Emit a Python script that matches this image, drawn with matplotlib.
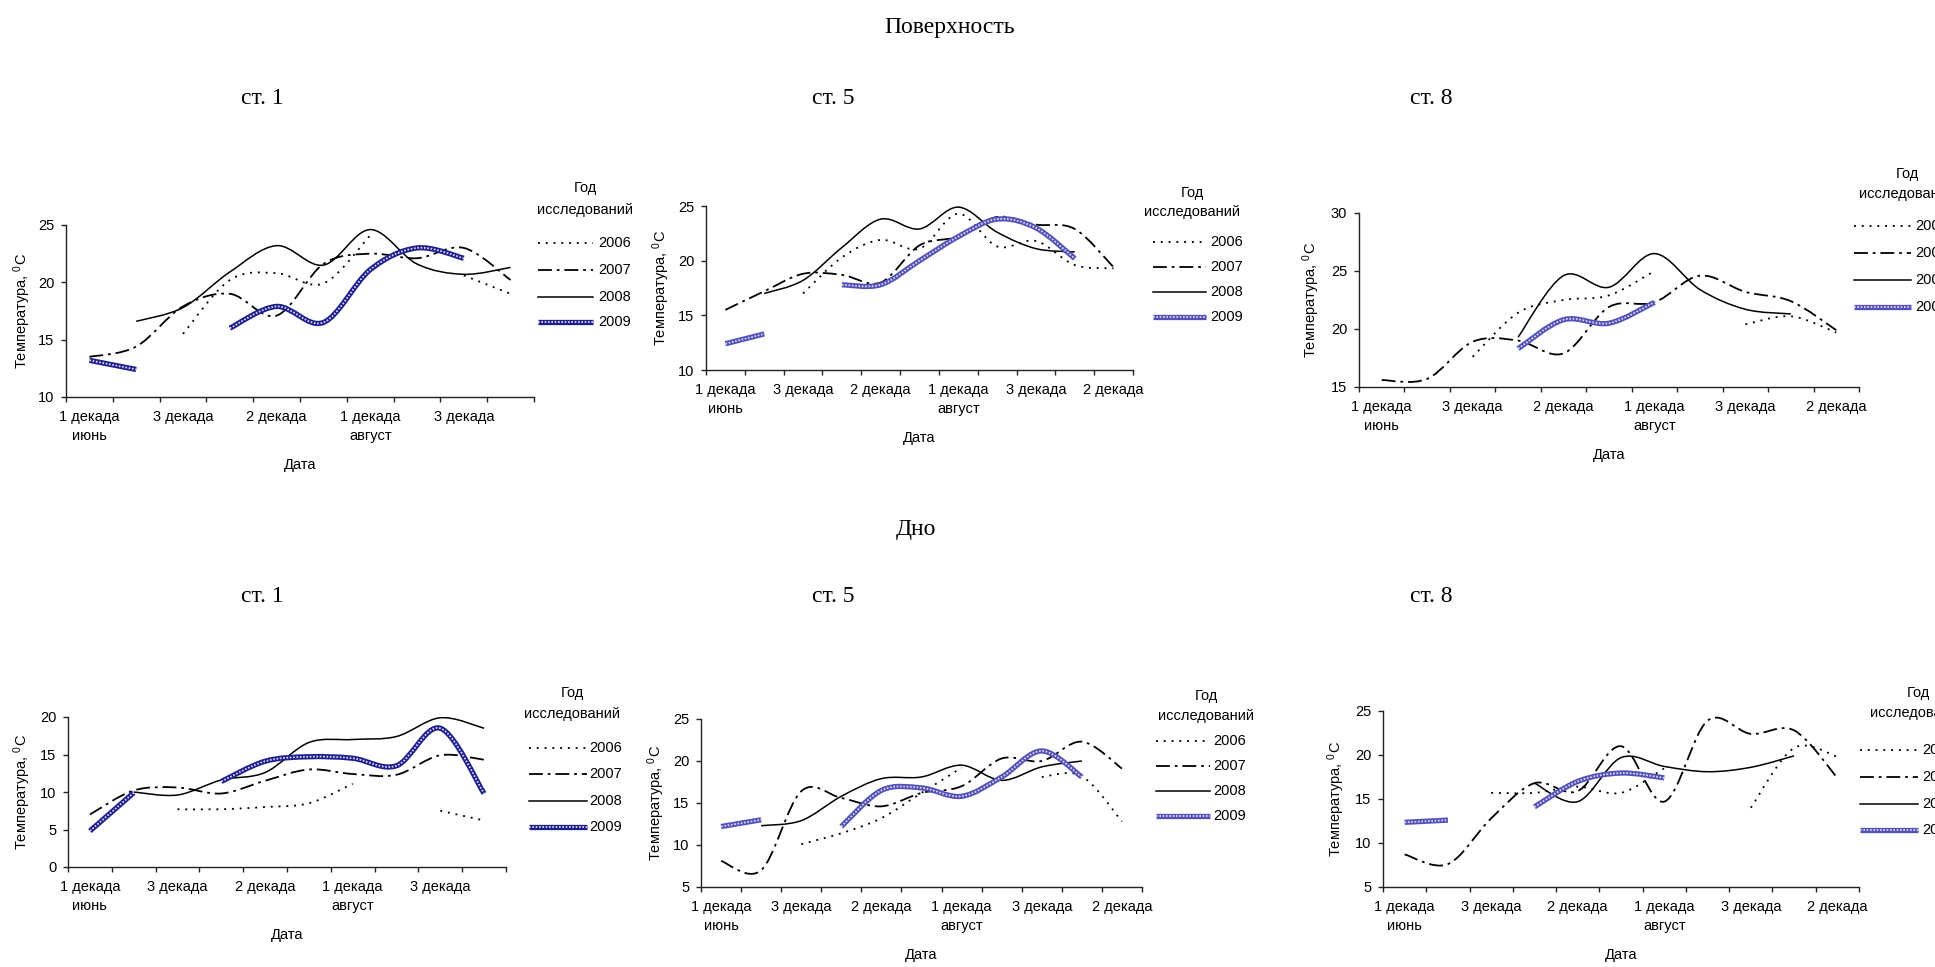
import numpy as np
import matplotlib
matplotlib.use("Agg")
import matplotlib.pyplot as plt
from matplotlib.path import Path
from matplotlib.patches import PathPatch
from matplotlib.lines import Line2D

plt.rcParams['font.family'] = ['Liberation Sans', 'DejaVu Sans']
plt.rcParams['mathtext.fontset'] = 'custom'
plt.rcParams['mathtext.rm'] = 'Liberation Sans'
plt.rcParams['mathtext.it'] = 'Liberation Sans'
plt.rcParams['lines.scale_dashes'] = False

nan = np.nan

# ---------------- data ----------------
years = ['2006', '2007', '2008', '2009']
tick_labels = ['1 декада\nиюнь', '3 декада', '2 декада', '1 декада\nавгуст', '3 декада', '2 декада']

surf_st1_2006 = [nan, nan, 15.5, 20.2, 20.8, 19.9, 24.1, nan, 20.6, 19.0]
surf_st1_2007 = [13.5, 14.4, 17.9, 19.0, 17.1, 21.6, 22.5, 22.1, 23.0, 20.2]
surf_st1_2008 = [nan, 16.6, 17.8, 20.9, 23.2, 21.5, 24.6, 21.6, 20.7, 21.3]
surf_st1_2009 = [13.2, 12.4, nan, 16.0, 17.9, 16.5, 21.1, 23.0, 22.1, nan]

surf_st5_2006 = [nan, nan, 17.0, 20.3, 21.9, 21.1, 24.3, 21.3, 21.8, 19.6, 19.3]
surf_st5_2007 = [15.5, 17.2, 18.8, 18.7, 18.0, 21.4, 22.2, 24.0, 23.3, 22.9, 19.4]
surf_st5_2008 = [nan, 17.0, 18.2, 21.2, 23.8, 22.9, 24.9, 22.6, 21.1, 20.8, nan]
surf_st5_2009 = [12.4, 13.3, nan, 17.8, 17.8, 20.0, 22.2, 23.8, 23.0, 20.2, nan]

surf_st8_2006 = [nan, nan, 17.6, 21.4, 22.5, 22.9, 25.0, nan, 20.4, 21.1, 19.7]
surf_st8_2007 = [15.6, 15.7, 18.9, 19.0, 17.9, 21.9, 22.3, 24.6, 23.2, 22.4, 19.9]
surf_st8_2008 = [nan, nan, nan, 19.3, 24.6, 23.6, 26.5, 23.4, 21.7, 21.3, nan]
surf_st8_2009 = [nan, nan, nan, 18.3, 20.8, 20.5, 22.3, nan, nan, nan, nan]

bottom_st1_2006 = [nan, nan, 7.7, 7.7, 8.0, 8.5, 11.1, nan, 7.5, 6.2]
bottom_st1_2007 = [7.0, 10.2, 10.6, 9.8, 11.5, 13.0, 12.4, 12.3, 14.9, 14.3]
bottom_st1_2008 = [nan, 10.0, 9.6, 11.6, 12.6, 16.6, 17.0, 17.4, 19.9, 18.5]
bottom_st1_2009 = [4.8, 9.9, nan, 11.4, 14.1, 14.7, 14.5, 13.5, 18.5, 9.8]

bottom_st5_2006 = [nan, nan, 10.1, 11.4, 13.2, 16.2, 19.2, nan, 18.1, 18.2, 12.8]
bottom_st5_2007 = [8.1, 7.0, 16.4, 15.6, 14.6, 16.2, 17.0, 20.3, 20.0, 22.3, 19.1]
bottom_st5_2008 = [nan, 12.3, 12.9, 15.8, 17.9, 18.1, 19.5, 17.7, 19.3, 20.0, nan]
bottom_st5_2009 = [12.2, 13.0, nan, 12.2, 16.5, 16.8, 15.8, 18.1, 21.2, 18.1, nan]

bottom_st8_2006 = [nan, nan, 15.7, 15.7, 16.4, 15.7, 18.5, nan, 14.0, 20.8, 19.8]
bottom_st8_2007 = [8.7, 7.6, 12.8, 16.8, 15.9, 21.0, 14.7, 23.9, 22.4, 22.8, 17.4]
bottom_st8_2008 = [nan, nan, nan, 16.8, 14.7, 19.7, 18.7, 18.1, 18.6, 19.9, nan]
bottom_st8_2009 = [12.35, 12.6, nan, 14.1, 17.0, 17.95, 17.4, nan, nan, nan, nan]

# ---------------- layout ----------------
W, H = 1935, 967
fig = plt.figure(figsize=(W / 100, H / 100), dpi=100)


def fx(px):
    return px / W


def fy(py):
    return 1 - py / H


FS = 10.5
DARK = '#1f1f8c'
LIGHT = '#5252b6'

styles = {
    '2006': dict(edgecolor='black', lw=1.3, linestyle=(0, (1.4, 4.2)), capstyle='butt'),
    '2007': dict(edgecolor='black', lw=1.3, linestyle=(0, (10, 3.5, 2, 3.5)), capstyle='butt'),
    '2008': dict(edgecolor='black', lw=1.1, linestyle='-'),
}


def smooth_path(xs, ys):
    n = len(xs)
    verts = [(xs[0], ys[0])]
    codes = [Path.MOVETO]
    for i in range(n - 1):
        p0 = (xs[i - 1], ys[i - 1]) if i > 0 else (xs[i], ys[i])
        p1 = (xs[i], ys[i])
        p2 = (xs[i + 1], ys[i + 1])
        p3 = (xs[i + 2], ys[i + 2]) if i + 2 < n else p2
        c1 = (p1[0] + (p2[0] - p0[0]) / 6.0, p1[1] + (p2[1] - p0[1]) / 6.0)
        c2 = (p2[0] - (p3[0] - p1[0]) / 6.0, p2[1] - (p3[1] - p1[1]) / 6.0)
        verts += [c1, c2, p2]
        codes += [Path.CURVE4] * 3
    return Path(verts, codes)


def segments(vals):
    vals = np.asarray(vals, dtype=float)
    segs, cur = [], []
    for i, v in enumerate(vals):
        if np.isnan(v):
            if cur:
                segs.append(cur)
            cur = []
        else:
            cur.append((i, v))
    if cur:
        segs.append(cur)
    return segs


def draw_series(ax, vals, year, blue):
    for seg in segments(vals):
        if len(seg) < 2:
            continue
        xs = [p[0] for p in seg]
        ys = [p[1] for p in seg]
        path = smooth_path(xs, ys)
        if year == '2009':
            ax.add_patch(PathPatch(path, fill=False, edgecolor=blue, lw=3.8, zorder=4, capstyle='butt'))
            ax.add_patch(PathPatch(path, fill=False, edgecolor='#d8d8f4', lw=1.3,
                                   linestyle=(0, (1.2, 1.2)), zorder=5, capstyle='butt'))
        else:
            ax.add_patch(PathPatch(path, fill=False, zorder=3, **styles[year]))


def panel(box, ylim, ystep, series, blue, leg):
    l, r, t, b = box
    ax = fig.add_axes([fx(l), fy(b), (r - l) / W, (b - t) / H])
    n = len(series[0])
    ax.set_xlim(-0.5, n - 0.5)
    ax.set_ylim(*ylim)
    for s in ['top', 'right']:
        ax.spines[s].set_visible(False)
    for s in ['left', 'bottom']:
        ax.spines[s].set_linewidth(1.0)
        ax.spines[s].set_color('#222222')
    ax.set_xticks(np.arange(-0.5, n, 1.0))
    ax.set_xticklabels([])
    lab_pos = np.arange(0, n, 2)
    ax.set_xticks(lab_pos, minor=True)
    ax.set_xticklabels(tick_labels[:len(lab_pos)], minor=True, fontsize=FS, linespacing=1.45)
    ax.tick_params(axis='x', which='major', direction='out', length=3.5, width=1.0, color='#222222')
    ax.tick_params(axis='x', which='minor', length=0, pad=9.5)
    ax.set_yticks(np.arange(ylim[0], ylim[1] + 0.1, ystep))
    ax.tick_params(axis='y', direction='out', length=3.5, width=1.0, color='#222222', pad=5,
                   labelsize=FS)
    ax.patch.set_alpha(0)
    for vals, yr in zip(series, years):
        draw_series(ax, vals, yr, blue)
    # axis titles
    fig.text(fx((l + r) / 2), fy(b + 68), 'Дата', ha='center', va='center', fontsize=FS)
    fig.text(fx(leg['ylab_x']), fy((t + b) / 2), 'Температура, $^{0}$C', rotation=90,
             ha='center', va='center', fontsize=FS)
    # legend
    lx0, lx1, tx = leg['line']
    fig.text(fx(leg['cx']), fy(leg['ty'][0]), 'Год', ha='center', va='center', fontsize=FS)
    fig.text(fx(leg['cx']), fy(leg['ty'][1]), 'исследований', ha='center', va='center', fontsize=FS)
    for yr, yy in zip(years, leg['ys']):
        xx = [fx(lx0), fx(lx1)]
        yv = [fy(yy), fy(yy)]
        if yr == '2009':
            fig.add_artist(Line2D(xx, yv, transform=fig.transFigure, color=blue, lw=3.8,
                                  solid_capstyle='butt'))
            fig.add_artist(Line2D(xx, yv, transform=fig.transFigure, color='#d8d8f4', lw=1.3,
                                  linestyle=(0, (1.2, 1.2)), dash_capstyle='butt'))
        else:
            st = styles[yr]
            fig.add_artist(Line2D(xx, yv, transform=fig.transFigure, color='black', lw=st['lw'],
                                  linestyle=st['linestyle'], dash_capstyle='butt'))
        fig.text(fx(tx), fy(yy), yr, ha='left', va='center', fontsize=FS)
    return ax


panel((66, 534, 225, 397), (10, 25), 5,
      [surf_st1_2006, surf_st1_2007, surf_st1_2008, surf_st1_2009], DARK,
      dict(ylab_x=22, cx=585, ty=(188, 210), ys=(243, 270, 297, 322), line=(538, 593, 598)))
panel((706, 1133, 206, 370), (10, 25), 5,
      [surf_st5_2006, surf_st5_2007, surf_st5_2008, surf_st5_2009], LIGHT,
      dict(ylab_x=661, cx=1192, ty=(193, 212), ys=(242, 267, 292, 317), line=(1153, 1206, 1210)))
panel((1359, 1859, 213, 387), (15, 30), 5,
      [surf_st8_2006, surf_st8_2007, surf_st8_2008, surf_st8_2009], LIGHT,
      dict(ylab_x=1311, cx=1907, ty=(174, 194), ys=(226, 253, 280, 307), line=(1854, 1911, 1915)))
panel((68, 506, 717, 867), (0, 20), 5,
      [bottom_st1_2006, bottom_st1_2007, bottom_st1_2008, bottom_st1_2009], DARK,
      dict(ylab_x=22, cx=572, ty=(693, 714), ys=(748, 774, 801, 827), line=(529, 587, 589)))
panel((701, 1142, 719, 887), (5, 25), 5,
      [bottom_st5_2006, bottom_st5_2007, bottom_st5_2008, bottom_st5_2009], LIGHT,
      dict(ylab_x=656, cx=1206, ty=(696, 716), ys=(741, 766, 791, 816), line=(1156, 1210, 1213)))
panel((1383, 1859, 711, 887), (5, 25), 5,
      [bottom_st8_2006, bottom_st8_2007, bottom_st8_2008, bottom_st8_2009], LIGHT,
      dict(ylab_x=1336, cx=1918, ty=(693, 713), ys=(750, 777, 804, 830), line=(1860, 1918, 1922)))

# headings
serif = ['Liberation Serif', 'DejaVu Serif']
HFS = 17
fig.text(fx(950), fy(27), 'Поверхность', ha='center', va='center', fontsize=HFS, family=serif)
fig.text(fx(916), fy(530), 'Дно', ha='center', va='center', fontsize=HFS, family=serif)
for xc, name in [(262, 'ст. 1'), (833, 'ст. 5'), (1431, 'ст. 8')]:
    fig.text(fx(xc), fy(98), name, ha='center', va='center', fontsize=HFS, family=serif)
    fig.text(fx(xc), fy(596), name, ha='center', va='center', fontsize=HFS, family=serif)

fig.savefig('out.png', dpi=100, facecolor='white')
